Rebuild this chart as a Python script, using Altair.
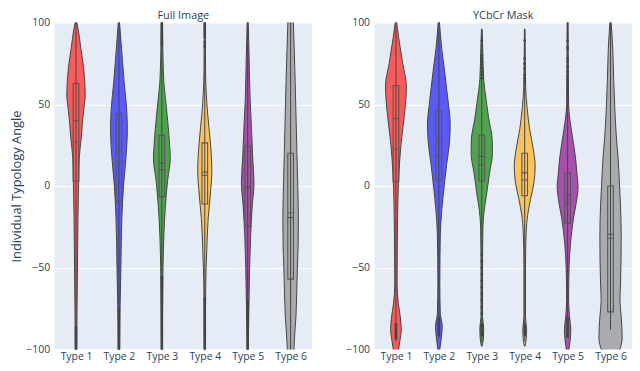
import json
import altair as alt
import pandas as pd

types = ["Type 1", "Type 2", "Type 3", "Type 4", "Type 5", "Type 6"]
panels = ["Full Image", "YCbCr Mask"]
colors = ["#fb5a5a", "#5a5afb", "#4fa54f", "#fbc35b", "#a651ab", "#a9abae"]

# ---- violin profiles: angle values and relative density (half width) ----
full_y = {
    "Type 1": [101, 95, 84, 74, 64, 55, 47, 38, 30, 17, 2, -20, -50, -80, -101],
    "Type 2": [101, 84, 64, 47, 34, 17, 0, -20, -50, -80, -101],
    "Type 3": [101, 84, 64, 53, 40, 25, 17, 3.6, -12, -31, -50, -101],
    "Type 4": [101, 70, 57, 44, 25, 10, -5.5, -20, -40, -60, -101],
    "Type 5": [101, 78, 53, 34, 17, 2, -12, -31, -50, -66, -101],
    "Type 6": [101, 84, 64, 40, 20, 0, -20, -35, -50, -65, -80, -90, -101],
}
full_d = {
    "Type 1": [0.5, 2.5, 5, 7.5, 9, 9.5, 8, 6.5, 5.5, 3.3, 2.7, 2, 1.5, 1, 0.7],
    "Type 2": [0.5, 2.7, 5.3, 8, 8.7, 7.2, 4.7, 3, 2, 1, 0.7],
    "Type 3": [0.5, 1, 2, 3.8, 6, 8, 8.7, 6, 3.7, 2, 1.2, 0.5],
    "Type 4": [0.5, 0.8, 1.5, 3, 6, 7.3, 5.7, 3.5, 2, 1, 0.5],
    "Type 5": [0.5, 1.5, 2.5, 4, 5.2, 6.5, 4.7, 3, 2, 1.5, 0.5],
    "Type 6": [2.8, 3.7, 4.7, 5.7, 6.5, 7.4, 8, 7.8, 7, 6.3, 5.5, 4.3, 3.3],
}
mask_y = {
    "Type 1": [101, 90, 75, 61, 46, 26, 7, -10, -30, -60, -72, -80, -88, -95, -101],
    "Type 2": [101, 84, 70, 52, 38, 27, 13, 0, -15, -30, -60, -78, -86, -93, -101],
    "Type 3": [96, 84, 65, 55, 42, 28, 20, 8, -5, -15, -25, -50, -80, -87, -93, -98],
    "Type 4": [96, 60, 48, 35, 22, 12, 2, -8, -18, -28, -50, -80, -88, -94, -98],
    "Type 5": [101, 50, 40, 30, 18, 5, 0, -10, -20, -35, -50, -70, -80, -88, -95, -101],
    "Type 6": [101, 84, 64, 46, 30, 17, 0, -12, -31, -60, -70, -80, -93, -101],
}
mask_d = {
    "Type 1": [0.5, 3, 7, 10.8, 9.2, 5.3, 3, 2, 1.5, 1.2, 2.5, 4.5, 5.5, 4, 2.5],
    "Type 2": [0.5, 3, 6, 9.5, 11.7, 11, 8, 5.5, 3, 1.5, 1, 1.5, 3.5, 2.5, 0.8],
    "Type 3": [0.3, 1, 2, 4, 7, 10.8, 11, 8, 5, 2.5, 1.2, 0.8, 0.8, 2, 1.7, 0.3],
    "Type 4": [0.3, 1, 2.5, 5, 9, 10.8, 9.5, 6, 3, 1.5, 0.8, 0.8, 2, 1.5, 0.3],
    "Type 5": [0.5, 1, 2.5, 5, 8, 10, 10.8, 9, 6, 3, 1.5, 1, 2, 3.3, 2.5, 1],
    "Type 6": [0.5, 2.3, 3.3, 4.5, 6, 7.8, 9.3, 10.3, 11, 10.3, 9.7, 11, 12, 9],
}

# ---- box statistics ----
full_q1 = [2.9, -10, -6.5, -11, -24.7, -57]
full_med = [40, 21, 14, 8.5, -1.2, -19.3]
full_mean = [27, 14.5, 10, 6.5, -0.5, -16.4]
full_q3 = [62.7, 44, 31, 26.4, 24.5, 20]
full_lo = [-101, -101, -101, -101, -101, -101]
full_hi = [101, 101, 101, 101, 101, 101]

mask_q1 = [2.7, 3.9, 2.9, -6, -22.7, -77]
mask_med = [41.2, 27.7, 18.1, 8.1, -5.4, -29.5]
mask_mean = [22.5, 18.3, 12.9, 3.7, -10.6, -32]
mask_q3 = [61.4, 46, 31.2, 20, 8.1, 0]
mask_lo = [-95, -93, -95, -95, -93, -88]
mask_hi = [101, 101, 96, 96, 101, 101]

# ---- dense outlier clusters (type index, from, to) ----
full_clusters = [(1, -86, -101), (2, -75, -101), (3, -55, -101), (3, 86, 101),
                 (4, -68, -101), (4, 92, 101), (5, -70, -101)]
mask_clusters = [(1, -84, -94), (2, -80, -92), (3, -84, -92), (4, -84, -92), (5, -80, -93)]

# ---- individual outliers (type index, value) ----
full_dots = [(4, 91), (4, 88), (4, 86), (4, 85)]
mask_dots = ([(3, v) for v in [89, 80, 78, 76, 74, 72, 70, 68, 66,
                               -42, -46, -50, -54, -58, -62, -66, -70, -74, -78]]
             + [(4, v) for v in [89, 78, 75, 72, 68, 66, 64]]
             + [(5, v) for v in [89, 85, 84, 78, 76, 73, 70, 67, 65, 63, 61, 58, 56]])

DENS_SCALE = 1 / 44.3   # relative density -> category-band units
BOX_HALF = 0.066
TEXT = "#2a3f5f"
EDGE = "#444444"

profiles = {"Full Image": (full_y, full_d), "YCbCr Mask": (mask_y, mask_d)}
stats = {
    "Full Image": (full_q1, full_med, full_mean, full_q3, full_lo, full_hi),
    "YCbCr Mask": (mask_q1, mask_med, mask_mean, mask_q3, mask_lo, mask_hi),
}
clusters = {"Full Image": full_clusters, "YCbCr Mask": mask_clusters}
dots = {"Full Image": full_dots, "YCbCr Mask": mask_dots}

label_expr = json.dumps(types) + "[datum.value - 1]"


def make_panel(name, first):
    ys, ds = profiles[name]
    vrows = []
    for i, t in enumerate(types):
        for yv, dv in zip(ys[t], ds[t]):
            vrows.append({"type": t, "pos": i + 1, "y": yv, "d": dv})
    vdf = pd.DataFrame(vrows)

    q1, med, mean, q3, lo, hi = stats[name]
    bdf = pd.DataFrame({"type": types, "pos": list(range(1, 7)), "q1": q1,
                        "med": med, "mean": mean, "q3": q3, "lo": lo, "hi": hi})
    cdf = pd.DataFrame([{"pos": p, "a": a, "b": b} for p, a, b in clusters[name]])
    ddf = pd.DataFrame([{"pos": p, "v": v} for p, v in dots[name]])

    xscale = alt.Scale(domain=[0.5, 6.5], nice=False, zero=False)
    yscale = alt.Scale(domain=[-100, 100], nice=False, zero=False)
    xaxis = alt.Axis(values=[1, 2, 3, 4, 5, 6], labelExpr=label_expr, grid=False,
                     ticks=False, domain=False, title=None, labelFontSize=10.5,
                     labelColor=TEXT, labelPadding=2, labelFont="Open Sans")
    if first:
        yaxis = alt.Axis(values=[-100, -50, 0, 50, 100], grid=True, gridColor="white",
                         gridWidth=1, ticks=False, domain=False,
                         title="Individual Typology Angle", titleFontSize=13,
                         titleFontWeight="normal", titleColor=TEXT, titlePadding=2,
                         titleFont="Open Sans", labelFontSize=10.5, labelColor=TEXT,
                         labelPadding=5, labelFont="Open Sans")
    else:
        yaxis = alt.Axis(values=[-100, -50, 0, 50, 100], grid=True, gridColor="white",
                         gridWidth=1, ticks=False, domain=False, title=None,
                         labelFontSize=10.5, labelColor=TEXT, labelPadding=5,
                         labelFont="Open Sans")

    violin = alt.Chart(vdf).transform_calculate(
        left=f"datum.pos - datum.d * {DENS_SCALE}",
        right=f"datum.pos + datum.d * {DENS_SCALE}",
    ).mark_area(orient="horizontal", interpolate="monotone", stroke=EDGE,
                strokeWidth=1, clip=True, opacity=1).encode(
        y=alt.Y("y:Q", scale=yscale, axis=yaxis),
        x=alt.X("left:Q", scale=xscale, axis=xaxis),
        x2="right:Q",
        fill=alt.Fill("type:N", scale=alt.Scale(domain=types, range=colors), legend=None),
        detail="type:N",
    )

    whisker = alt.Chart(bdf).mark_rule(color=EDGE, strokeWidth=1, clip=True).encode(
        x=alt.X("pos:Q", scale=xscale, axis=xaxis),
        y=alt.Y("lo:Q", scale=yscale, axis=yaxis),
        y2="hi:Q",
    )

    cluster = alt.Chart(cdf).mark_rule(color=EDGE, strokeWidth=2.6, clip=True).encode(
        x=alt.X("pos:Q", scale=xscale, axis=xaxis),
        y=alt.Y("a:Q", scale=yscale, axis=yaxis),
        y2="b:Q",
    )

    dot = alt.Chart(ddf).mark_circle(color=EDGE, size=7, opacity=1, clip=True).encode(
        x=alt.X("pos:Q", scale=xscale, axis=xaxis),
        y=alt.Y("v:Q", scale=yscale, axis=yaxis),
    )

    boxbase = alt.Chart(bdf).transform_calculate(
        bl=f"datum.pos - {BOX_HALF}", br=f"datum.pos + {BOX_HALF}"
    )
    box = boxbase.mark_rect(fillOpacity=0, stroke="#555555", strokeWidth=1.1).encode(
        x=alt.X("bl:Q", scale=xscale, axis=xaxis),
        x2="br:Q",
        y=alt.Y("q1:Q", scale=yscale, axis=yaxis),
        y2="q3:Q",
    )
    medline = boxbase.mark_rule(color="#555555", strokeWidth=1.1).encode(
        x=alt.X("bl:Q", scale=xscale, axis=xaxis),
        x2="br:Q",
        y=alt.Y("med:Q", scale=yscale, axis=yaxis),
    )
    meanline = boxbase.mark_rule(color="#555555", strokeWidth=1, strokeDash=[2, 1]).encode(
        x=alt.X("bl:Q", scale=xscale, axis=xaxis),
        x2="br:Q",
        y=alt.Y("mean:Q", scale=yscale, axis=yaxis),
    )

    return alt.layer(violin, whisker, cluster, dot, box, medline, meanline).properties(
        width=260, height=330,
        title=alt.TitleParams(name, fontSize=11, fontWeight="normal", color=TEXT,
                              font="Open Sans", offset=-3),
    )


chart = alt.hconcat(
    make_panel(panels[0], True), make_panel(panels[1], False), spacing=33
).properties(padding={"left": 2, "top": 0, "right": 0, "bottom": 0}).configure_view(
    fill="#E5ECF6", strokeWidth=0
)

chart.save("out.html", embed_options={"renderer": "svg", "actions": False})
